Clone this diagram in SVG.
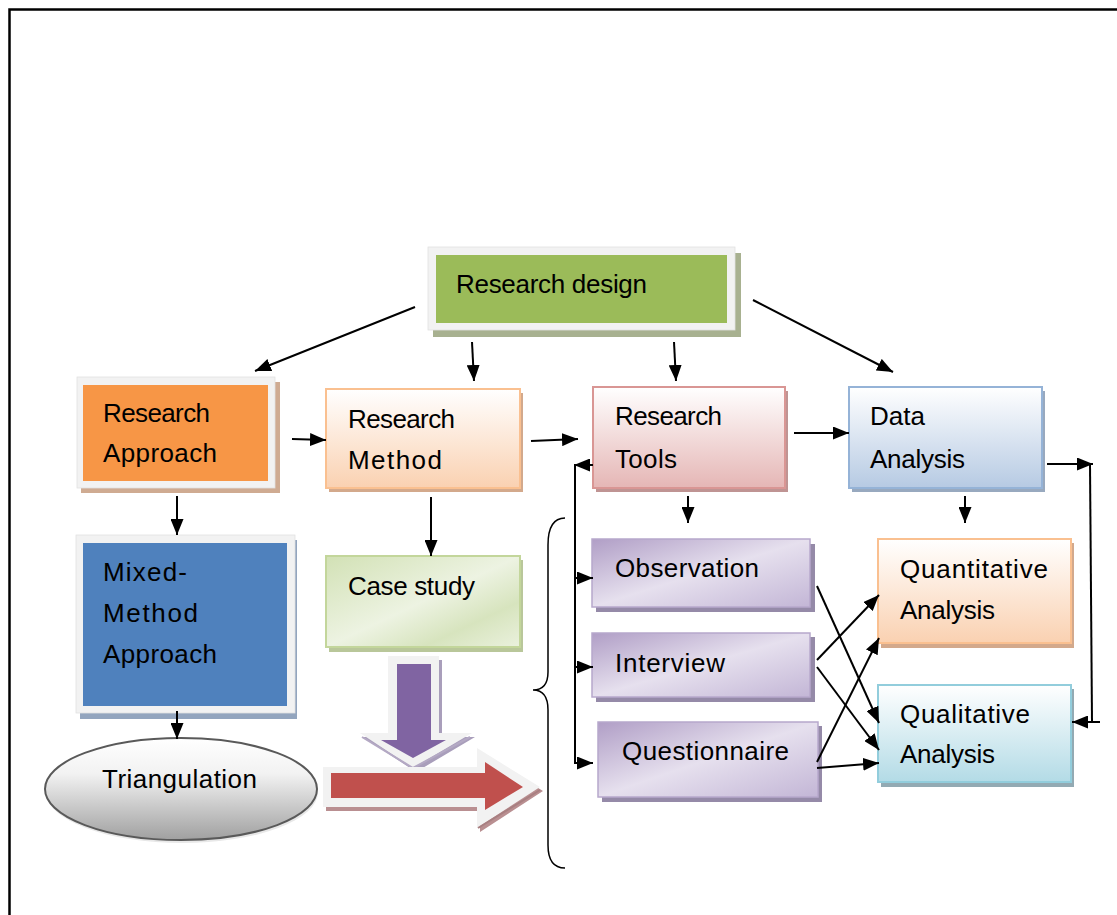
<svg xmlns="http://www.w3.org/2000/svg" width="1117" height="915" viewBox="0 0 1117 915">
  <style>
    text { font-family: "Liberation Sans", Arial, sans-serif; font-size: 26px; fill: #000; }
    .frame { fill: #F2F2F2; stroke: #E2E2E2; stroke-width: 0.8; }
    .conn line { stroke: #000; stroke-width: 2; fill: none; }
    .arr { marker-end: url(#head); }
  </style>
  <defs>
    <marker id="head" viewBox="0 0 16 13" refX="16" refY="6.5" markerWidth="16" markerHeight="13" markerUnits="userSpaceOnUse" orient="auto">
      <path d="M0,0 L16,6.5 L0,13 Z" fill="#000"/>
    </marker>
    <linearGradient id="gPeach" x1="0" y1="0" x2="0" y2="1">
      <stop offset="0" stop-color="#FFFFFF"/>
      <stop offset="1" stop-color="#FAD1B1"/>
    </linearGradient>
    <linearGradient id="gPink" x1="0" y1="0" x2="0" y2="1">
      <stop offset="0" stop-color="#FFFFFF"/>
      <stop offset="1" stop-color="#E5B6B5"/>
    </linearGradient>
    <linearGradient id="gBlue" x1="0" y1="0" x2="0" y2="1">
      <stop offset="0" stop-color="#FFFFFF"/>
      <stop offset="1" stop-color="#B6CAE3"/>
    </linearGradient>
    <linearGradient id="gCyan" x1="0" y1="0" x2="0" y2="1">
      <stop offset="0" stop-color="#FFFFFF"/>
      <stop offset="1" stop-color="#B3DBE6"/>
    </linearGradient>
    <linearGradient id="gGreen" x1="0" y1="0" x2="1" y2="1">
      <stop offset="0" stop-color="#D2E1B5"/>
      <stop offset="0.5" stop-color="#EDF3E2"/>
      <stop offset="0.75" stop-color="#D7E4BE"/>
      <stop offset="1" stop-color="#EAF1DD"/>
    </linearGradient>
    <linearGradient id="gPurple" x1="0" y1="0" x2="1" y2="1">
      <stop offset="0" stop-color="#B09EC6"/>
      <stop offset="0.5" stop-color="#E6E0EE"/>
      <stop offset="1" stop-color="#C3B6D6"/>
    </linearGradient>
    <linearGradient id="gGray" x1="0" y1="0" x2="0" y2="1">
      <stop offset="0" stop-color="#FFFFFF"/>
      <stop offset="0.35" stop-color="#F2F2F2"/>
      <stop offset="1" stop-color="#A0A0A0"/>
    </linearGradient>
  </defs>

  <!-- page frame -->
  <path d="M9.5,915 V9.5 H1117" fill="none" stroke="#000" stroke-width="2.5"/>

  <!-- top node -->
  <g id="research-design">
    <rect x="433" y="253" width="308" height="84" fill="#A8B190"/>
    <rect class="frame" x="428" y="247" width="307" height="83"/>
    <rect x="436" y="255" width="291" height="68" fill="#9BBB59"/>
    <text x="456" y="293" textLength="191" lengthAdjust="spacing">Research design</text>
  </g>

  <g id="research-approach">
    <rect x="81" y="382" width="199" height="111" fill="#CFAB92"/>
    <rect class="frame" x="77" y="377" width="198" height="111"/>
    <rect x="83" y="385" width="185" height="96" fill="#F79646"/>
    <text x="103" y="422" textLength="107" lengthAdjust="spacing">Research</text>
    <text x="103" y="462" textLength="114" lengthAdjust="spacing">Approach</text>
  </g>

  <g id="research-method">
    <rect x="329" y="393" width="194" height="99" fill="#D3A98C"/>
    <rect x="326" y="389" width="194" height="99" fill="url(#gPeach)" stroke="#FAC090" stroke-width="2"/>
    <text x="348" y="428" textLength="107" lengthAdjust="spacing">Research</text>
    <text x="348" y="469" textLength="94" lengthAdjust="spacing">Method</text>
  </g>

  <g id="research-tools">
    <rect x="596" y="391" width="192" height="101" fill="#BF9493"/>
    <rect x="593" y="387" width="192" height="101" fill="url(#gPink)" stroke="#D99694" stroke-width="2"/>
    <text x="615" y="425" textLength="107" lengthAdjust="spacing">Research</text>
    <text x="615" y="468" textLength="62" lengthAdjust="spacing">Tools</text>
  </g>

  <g id="data-analysis">
    <rect x="852" y="391" width="193" height="101" fill="#98A9BF"/>
    <rect x="849" y="387" width="193" height="101" fill="url(#gBlue)" stroke="#95B3D7" stroke-width="2"/>
    <text x="870" y="425" textLength="55" lengthAdjust="spacing">Data</text>
    <text x="870" y="468" textLength="95" lengthAdjust="spacing">Analysis</text>
  </g>

  <g id="mixed-method-approach">
    <rect x="80" y="540" width="217" height="179" fill="#93A5BE"/>
    <rect class="frame" x="76" y="535" width="219" height="178"/>
    <rect x="83" y="543" width="204" height="163" fill="#4F81BD"/>
    <text x="103" y="581" textLength="84" lengthAdjust="spacing">Mixed-</text>
    <text x="103" y="622" textLength="95" lengthAdjust="spacing">Method</text>
    <text x="103" y="663" textLength="114" lengthAdjust="spacing">Approach</text>
  </g>

  <g id="case-study">
    <rect x="329" y="560" width="194" height="92" fill="#B9C79A"/>
    <rect x="326" y="556" width="194" height="91" fill="url(#gGreen)" stroke="#C3D69B" stroke-width="2"/>
    <text x="348" y="595" textLength="127" lengthAdjust="spacing">Case study</text>
  </g>

  <g id="triangulation">
    <ellipse cx="182" cy="792" rx="136" ry="51" fill="#D9D9D9" opacity="0.6"/>
    <ellipse cx="181" cy="789" rx="136" ry="51" fill="url(#gGray)" stroke="#595959" stroke-width="2"/>
    <text x="102" y="788" textLength="155" lengthAdjust="spacing">Triangulation</text>
  </g>

  <!-- block arrows -->
  <g id="down-arrow">
    <path d="M391,660 H442 V737 H475 L416,772 L363,737 H391 Z" fill="#A99EBB"/>
    <path d="M388,656 H439 V733 H472 L413,768 L360,733 H388 Z" fill="#F2F2F2"/>
    <polyline points="362,737 413,768 470,737" fill="none" stroke="#B4A9C4" stroke-width="2"/>
    <path d="M397,664 H431 V740 H446 L413,758 L381,740 H397 Z" fill="#8064A2"/>
  </g>

  <g id="right-arrow">
    <path d="M326,771 H480 V752 L543,791 L480,832 V811 H326 Z" fill="#B98F91"/>
    <path d="M323,767 H477 V748 L540,787 L477,828 V807 H323 Z" fill="#F2F2F2"/>
    <polyline points="478,828 540,790" fill="none" stroke="#A87F81" stroke-width="2"/>
    <path d="M331,773 H485 V762 L523,787 L485,810 V798 H331 Z" fill="#C0504D"/>
  </g>

  <path id="brace" d="M565,518 C553,518 548,528 548,545 L548,672 C548,684 543,690 533,690 C543,690 548,697 548,710 L548,845 C548,860 553,868 565,868" fill="none" stroke="#000" stroke-width="1.5"/>

  <g id="observation">
    <rect x="596" y="544" width="219" height="68" fill="#958AA8"/>
    <rect x="592" y="539" width="218" height="68" fill="url(#gPurple)" stroke="#B7A8CC" stroke-width="1.5"/>
    <text x="615" y="577" textLength="144" lengthAdjust="spacing">Observation</text>
  </g>

  <g id="interview">
    <rect x="596" y="637" width="219" height="65" fill="#958AA8"/>
    <rect x="592" y="633" width="218" height="64" fill="url(#gPurple)" stroke="#B7A8CC" stroke-width="1.5"/>
    <text x="615" y="672" textLength="110" lengthAdjust="spacing">Interview</text>
  </g>

  <g id="questionnaire">
    <rect x="602" y="726" width="220" height="76" fill="#958AA8"/>
    <rect x="598" y="722" width="220" height="75" fill="url(#gPurple)" stroke="#B7A8CC" stroke-width="1.5"/>
    <text x="622" y="760" textLength="167" lengthAdjust="spacing">Questionnaire</text>
  </g>

  <g id="quantitative-analysis">
    <rect x="881" y="543" width="193" height="105" fill="#D3A98C"/>
    <rect x="878" y="539" width="193" height="104" fill="url(#gPeach)" stroke="#FAC090" stroke-width="2"/>
    <text x="900" y="578" textLength="148" lengthAdjust="spacing">Quantitative</text>
    <text x="900" y="619" textLength="95" lengthAdjust="spacing">Analysis</text>
  </g>

  <g id="qualitative-analysis">
    <rect x="881" y="689" width="193" height="98" fill="#93AAB3"/>
    <rect x="878" y="685" width="193" height="97" fill="url(#gCyan)" stroke="#92CDDC" stroke-width="2"/>
    <text x="900" y="723" textLength="130" lengthAdjust="spacing">Qualitative</text>
    <text x="900" y="763" textLength="95" lengthAdjust="spacing">Analysis</text>
  </g>

  <!-- connectors -->
  <g id="connectors" class="conn">
    <line class="arr" x1="415" y1="307" x2="255" y2="371"/>
    <line class="arr" x1="472" y1="342" x2="474" y2="381"/>
    <line class="arr" x1="674" y1="342" x2="676" y2="381"/>
    <line class="arr" x1="753" y1="300" x2="893" y2="372"/>

    <line class="arr" x1="292" y1="439" x2="326" y2="440"/>
    <line class="arr" x1="531" y1="441" x2="578" y2="439"/>
    <line class="arr" x1="794" y1="433" x2="849" y2="433"/>

    <line class="arr" x1="177" y1="496" x2="177" y2="535"/>
    <line class="arr" x1="177" y1="711" x2="177" y2="739"/>
    <line class="arr" x1="431" y1="497" x2="431" y2="556"/>
    <line class="arr" x1="688" y1="496" x2="688" y2="523"/>
    <line class="arr" x1="965" y1="496" x2="965" y2="523"/>

    <!-- tools to the three instruments -->
    <line class="arr" x1="593" y1="465" x2="574" y2="465"/>
    <line x1="575" y1="465" x2="575" y2="764"/>
    <line class="arr" x1="575" y1="578" x2="593" y2="578"/>
    <line class="arr" x1="575" y1="667" x2="593" y2="667"/>
    <line class="arr" x1="575" y1="763" x2="593" y2="763"/>

    <!-- data analysis loop to qualitative -->
    <line class="arr" x1="1047" y1="464" x2="1093" y2="464"/>
    <line x1="1090" y1="464" x2="1092" y2="722"/>
    <line class="arr" x1="1100" y1="722" x2="1072" y2="722"/>

    <!-- instruments to analysis -->
    <line class="arr" x1="817" y1="586" x2="879" y2="723"/>
    <line class="arr" x1="817" y1="660" x2="879" y2="595"/>
    <line class="arr" x1="817" y1="667" x2="879" y2="750"/>
    <line class="arr" x1="817" y1="762" x2="879" y2="638"/>
    <line class="arr" x1="817" y1="768" x2="879" y2="763"/>
  </g>
</svg>
